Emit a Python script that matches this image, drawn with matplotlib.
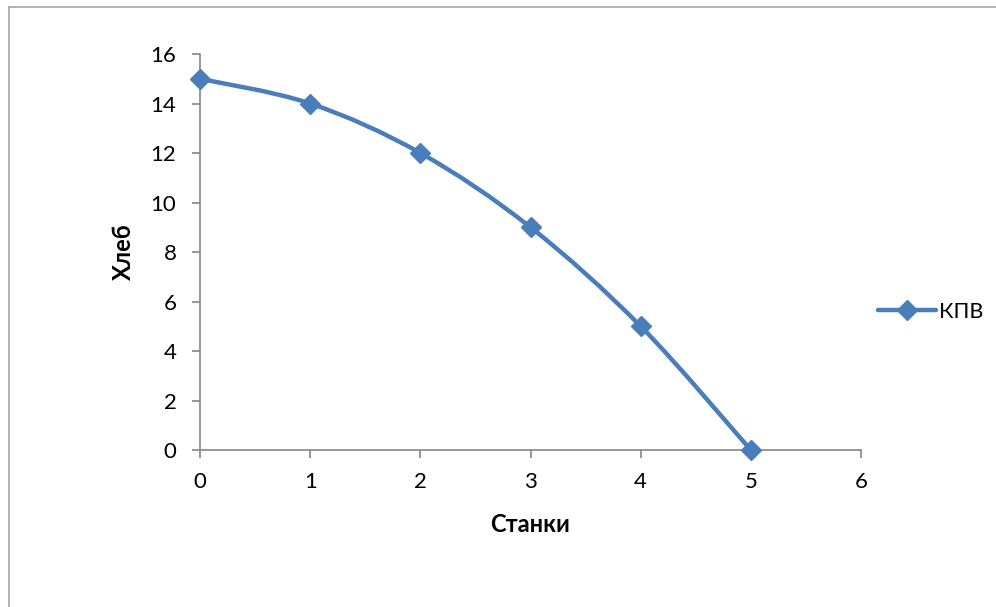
import matplotlib
matplotlib.use("Agg")
import matplotlib.pyplot as plt
from matplotlib.path import Path
from matplotlib.patches import PathPatch
from matplotlib.lines import Line2D

plt.rcParams["font.family"] = ["Lato", "Open Sans", "DejaVu Sans"]

# production possibilities: machine tools vs bread
stanki = [0, 1, 2, 3, 4, 5]
hleb = [15, 14, 12, 9, 5, 0]
series_name = "КПВ"
x_ticks = [0, 1, 2, 3, 4, 5, 6]
y_ticks = [0, 2, 4, 6, 8, 10, 12, 14, 16]

BLUE = "#4a7ebb"
GRAY = "#868686"


def smooth_path(xs, ys):
    """Bezier path through the points, spreadsheet-style smoothing."""
    pts = list(zip(xs, ys))
    verts = [pts[0]]
    codes = [Path.MOVETO]
    n = len(pts)
    for i in range(n - 1):
        p0 = pts[max(i - 1, 0)]
        p1 = pts[i]
        p2 = pts[i + 1]
        p3 = pts[min(i + 2, n - 1)]
        c1 = (p1[0] + (p2[0] - p0[0]) / 6, p1[1] + (p2[1] - p0[1]) / 6)
        c2 = (p2[0] - (p3[0] - p1[0]) / 6, p2[1] - (p3[1] - p1[1]) / 6)
        verts += [c1, c2, p2]
        codes += [Path.CURVE4] * 3
    return Path(verts, codes)


fig = plt.figure(figsize=(9.96, 6.07), dpi=100)
ax = fig.add_axes([0.2008, 0.2586, 0.6637, 0.6524])

ax.add_patch(PathPatch(smooth_path(stanki, hleb), fill=False, edgecolor=BLUE,
                       lw=3.2, capstyle="round", joinstyle="round", zorder=2))
ax.plot(stanki, hleb, linestyle="none", marker="D", markersize=10,
        color=BLUE, zorder=3, clip_on=False)

ax.set_xlim(0, 6)
ax.set_ylim(0, 16)
ax.set_xticks(x_ticks)
ax.set_yticks(y_ticks)
ax.tick_params(direction="out", length=6, width=1.2, color=GRAY, labelsize=16)
ax.tick_params(axis="x", pad=10)
ax.tick_params(axis="y", pad=11)
for side in ("top", "right"):
    ax.spines[side].set_visible(False)
for side in ("left", "bottom"):
    ax.spines[side].set_color(GRAY)
    ax.spines[side].set_linewidth(1.2)

ax.set_xlabel("Станки", fontsize=17, fontweight="bold", labelpad=15)
ax.set_ylabel("Хлеб", fontsize=17, fontweight="bold", labelpad=11)

# legend entry to the right of the plot
legend_handle = Line2D([], [], color=BLUE, lw=3.2, marker="D", markersize=10,
                       solid_capstyle="round")
fig.legend([legend_handle], [series_name], loc="center left",
           bbox_to_anchor=(0.862, 0.486), frameon=False, fontsize=15.5,
           handlelength=2.7, handletextpad=0.15)

# chart area border
fig.add_artist(Line2D([9 / 996, 9 / 996], [0, 1 - 7 / 607], color="#a6a6a6",
                      lw=1.2, transform=fig.transFigure))
fig.add_artist(Line2D([9 / 996, 1], [1 - 7 / 607, 1 - 7 / 607], color="#a6a6a6",
                      lw=1.2, transform=fig.transFigure))

fig.savefig("out.png", dpi=100)
